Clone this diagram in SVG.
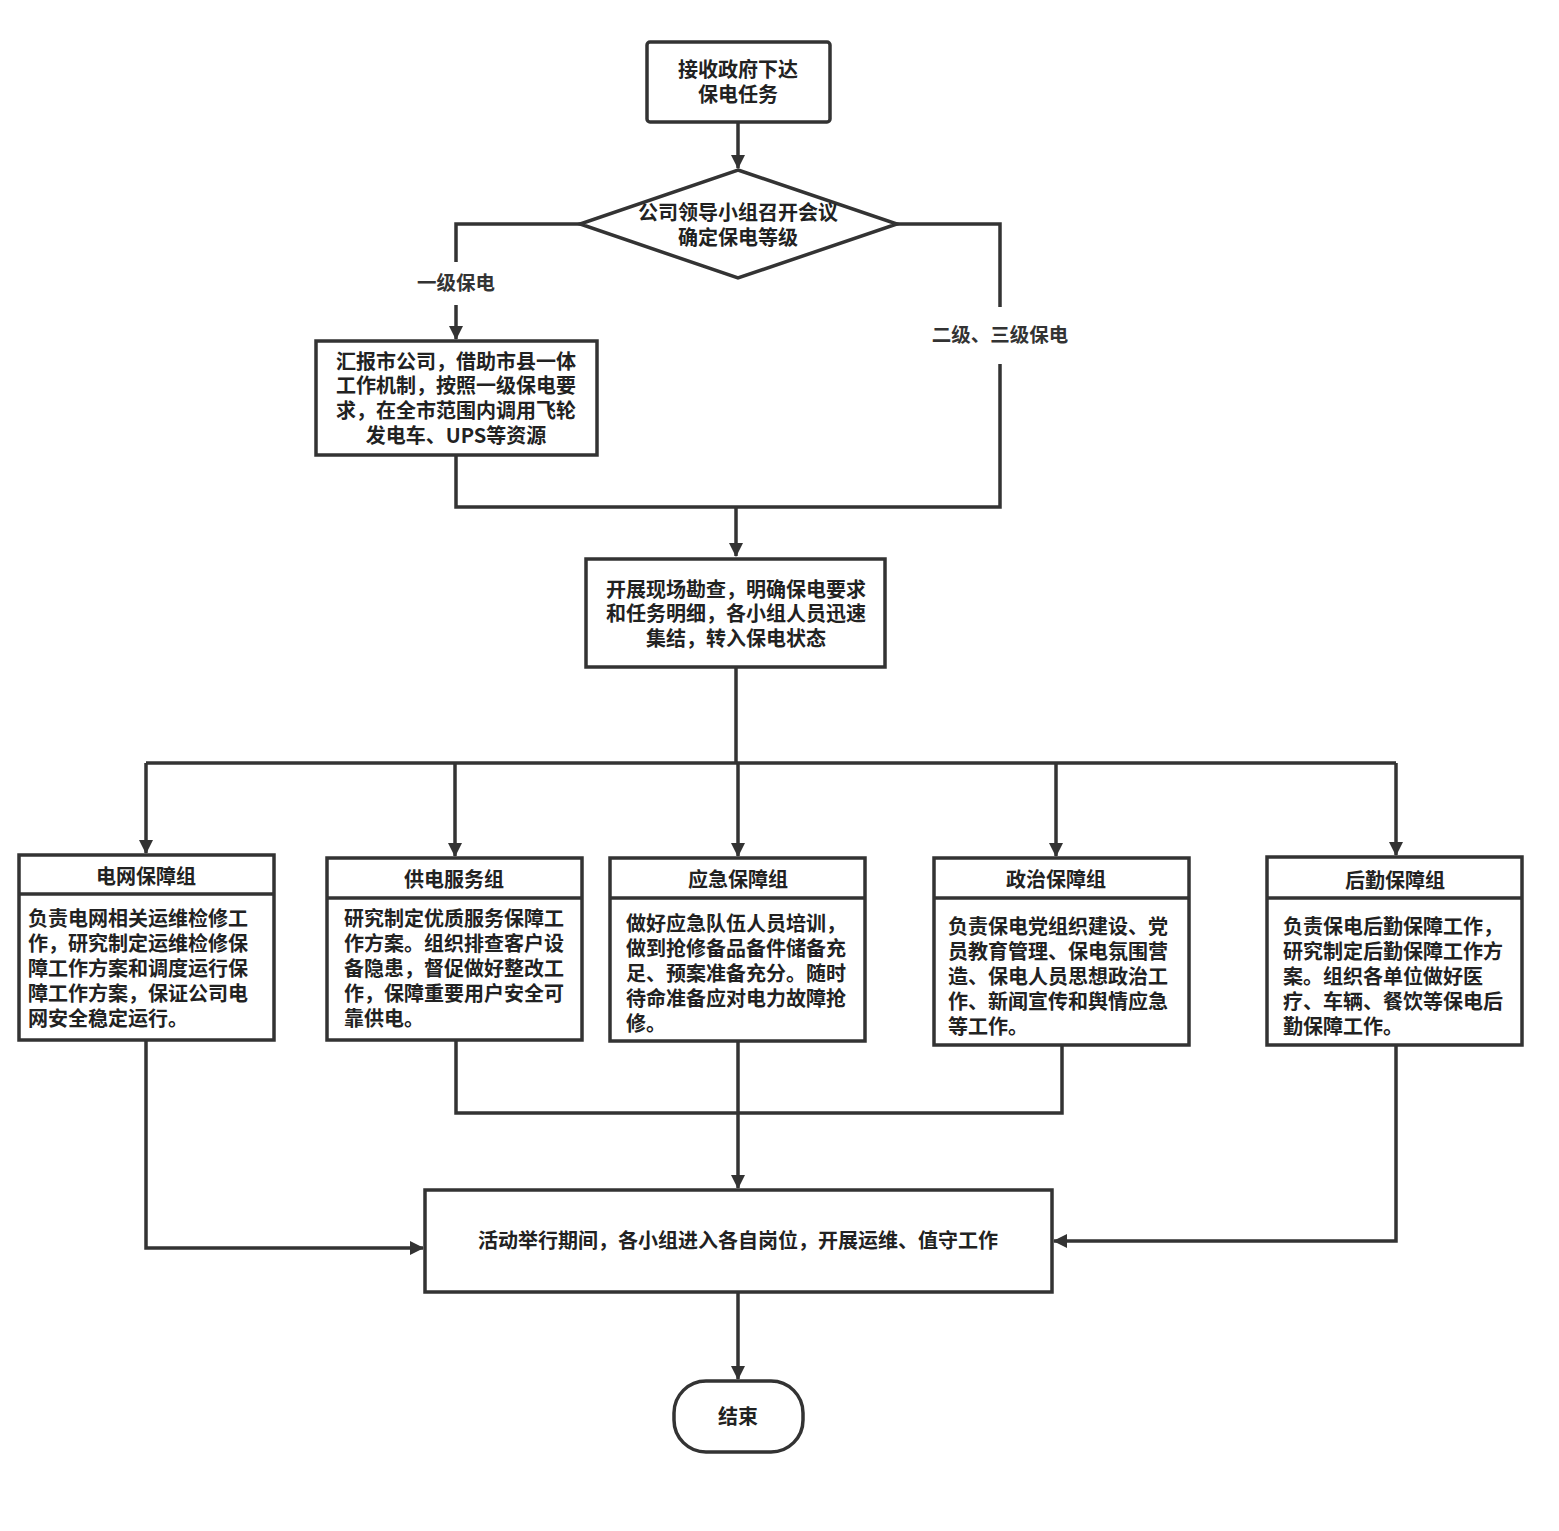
<svg xmlns="http://www.w3.org/2000/svg" width="1559" height="1531" viewBox="0 0 1559 1531">
<style>
.box{fill:#fff;stroke:#333;stroke-width:3.5}
.ln{fill:none;stroke:#333;stroke-width:3.5}
.t{font-family:"Noto Sans CJK SC","Noto Sans",sans-serif;font-weight:bold;font-size:20px;fill:#222}
.c{text-anchor:middle}
.lbl{font-family:"Noto Sans CJK SC","Noto Sans",sans-serif;font-weight:bold;font-size:19.5px;fill:#333;text-anchor:middle}
</style>
<defs>
<marker id="ah" markerUnits="userSpaceOnUse" markerWidth="14" markerHeight="18" viewBox="0 0 14 18" refX="13" refY="9" orient="auto">
<path d="M0,2 L14,9 L0,16 Z" fill="#333"/>
</marker>
</defs>
<rect width="1559" height="1531" fill="#fff"/>

<g id="connectors">
<path class="ln" d="M738,122 V168" marker-end="url(#ah)"/>
<path class="ln" d="M580,224 H456 V262"/>
<path class="ln" d="M456,305 V339" marker-end="url(#ah)"/>
<path class="ln" d="M897,224 H1000 V307"/>
<path class="ln" d="M1000,364 V507 H456 V455"/>
<path class="ln" d="M736,507 V556" marker-end="url(#ah)"/>
<path class="ln" d="M736,667 V763"/>
<path class="ln" d="M146,763 H1396"/>
<path class="ln" d="M146,763 V853" marker-end="url(#ah)"/>
<path class="ln" d="M455,763 V856" marker-end="url(#ah)"/>
<path class="ln" d="M738,763 V856" marker-end="url(#ah)"/>
<path class="ln" d="M1056,763 V856" marker-end="url(#ah)"/>
<path class="ln" d="M1396,763 V855" marker-end="url(#ah)"/>
<path class="ln" d="M146,1040 V1248 H423" marker-end="url(#ah)"/>
<path class="ln" d="M456,1040 V1113 H1062 V1045"/>
<path class="ln" d="M738,1041 V1188" marker-end="url(#ah)"/>
<path class="ln" d="M1396,1045 V1241 H1054" marker-end="url(#ah)"/>
<path class="ln" d="M738,1292 V1379" marker-end="url(#ah)"/>
<text class="lbl" x="456" y="290">一级保电</text>
<text class="lbl" x="1000" y="342">二级、三级保电</text>
</g>

<g id="start">
<rect class="box" x="647" y="42" width="183" height="80" rx="3"/>
<text class="t c" x="738" y="77">接收政府下达</text>
<text class="t c" x="738" y="102">保电任务</text>
</g>

<g id="decision">
<polygon class="box" points="738,170 897,224 738,278 580,224"/>
<text class="t c" x="738" y="220">公司领导小组召开会议</text>
<text class="t c" x="738" y="245">确定保电等级</text>
</g>

<g id="level1">
<rect class="box" x="316" y="341" width="281" height="114"/>
<text class="t c" x="456" y="369">汇报市公司，借助市县一体</text>
<text class="t c" x="456" y="393">工作机制，按照一级保电要</text>
<text class="t c" x="456" y="418">求，在全市范围内调用飞轮</text>
<text class="t c" x="456" y="443">发电车、UPS等资源</text>
</g>

<g id="survey">
<rect class="box" x="586" y="559" width="299" height="108"/>
<text class="t c" x="736" y="597">开展现场勘查，明确保电要求</text>
<text class="t c" x="736" y="621">和任务明细，各小组人员迅速</text>
<text class="t c" x="736" y="646">集结，转入保电状态</text>
</g>

<g id="grid">
<rect class="box" x="19" y="855" width="255" height="185"/>
<path class="ln" d="M19,894 H274"/>
<text class="t c" x="146" y="884">电网保障组</text>
<text class="t" x="28" y="926">负责电网相关运维检修工</text>
<text class="t" x="28" y="951">作，研究制定运维检修保</text>
<text class="t" x="28" y="976">障工作方案和调度运行保</text>
<text class="t" x="28" y="1001">障工作方案，保证公司电</text>
<text class="t" x="28" y="1026">网安全稳定运行。</text>
</g>

<g id="service">
<rect class="box" x="327" y="858" width="255" height="182"/>
<path class="ln" d="M327,898 H582"/>
<text class="t c" x="454" y="887">供电服务组</text>
<text class="t" x="344" y="926">研究制定优质服务保障工</text>
<text class="t" x="344" y="951">作方案。组织排查客户设</text>
<text class="t" x="344" y="976">备隐患，督促做好整改工</text>
<text class="t" x="344" y="1001">作，保障重要用户安全可</text>
<text class="t" x="344" y="1026">靠供电。</text>
</g>

<g id="emergency">
<rect class="box" x="610" y="858" width="255" height="183"/>
<path class="ln" d="M610,898 H865"/>
<text class="t c" x="738" y="887">应急保障组</text>
<text class="t" x="626" y="931">做好应急队伍人员培训，</text>
<text class="t" x="626" y="956">做到抢修备品备件储备充</text>
<text class="t" x="626" y="981">足、预案准备充分。随时</text>
<text class="t" x="626" y="1006">待命准备应对电力故障抢</text>
<text class="t" x="626" y="1031">修。</text>
</g>

<g id="political">
<rect class="box" x="934" y="858" width="255" height="187"/>
<path class="ln" d="M934,898 H1189"/>
<text class="t c" x="1056" y="887">政治保障组</text>
<text class="t" x="948" y="934">负责保电党组织建设、党</text>
<text class="t" x="948" y="959">员教育管理、保电氛围营</text>
<text class="t" x="948" y="984">造、保电人员思想政治工</text>
<text class="t" x="948" y="1009">作、新闻宣传和舆情应急</text>
<text class="t" x="948" y="1034">等工作。</text>
</g>

<g id="logistics">
<rect class="box" x="1267" y="857" width="255" height="188"/>
<path class="ln" d="M1267,898 H1522"/>
<text class="t c" x="1395" y="888">后勤保障组</text>
<text class="t" x="1283" y="934">负责保电后勤保障工作，</text>
<text class="t" x="1283" y="959">研究制定后勤保障工作方</text>
<text class="t" x="1283" y="984">案。组织各单位做好医</text>
<text class="t" x="1283" y="1009">疗、车辆、餐饮等保电后</text>
<text class="t" x="1283" y="1034">勤保障工作。</text>
</g>

<g id="duty">
<rect class="box" x="425" y="1190" width="627" height="102"/>
<text class="t c" x="738" y="1248">活动举行期间，各小组进入各自岗位，开展运维、值守工作</text>
</g>

<g id="end">
<rect class="box" x="674" y="1381" width="129" height="71" rx="32" ry="32"/>
<text class="t c" x="738" y="1424">结束</text>
</g>
</svg>
